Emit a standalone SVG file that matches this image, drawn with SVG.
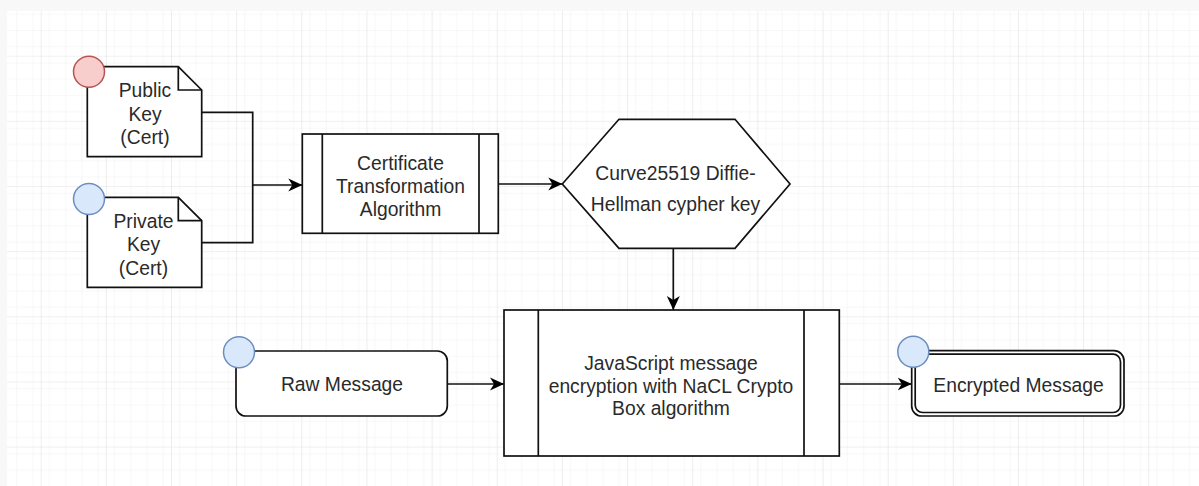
<svg xmlns="http://www.w3.org/2000/svg" width="1199" height="486" viewBox="0 0 1199 486">
  <defs>
    <pattern id="minor" patternUnits="userSpaceOnUse" x="40.7" y="55.7" width="16.29" height="16.29">
      <path d="M0,0 H16.29 M0,0 V16.29" fill="none" stroke="#efefef" stroke-width="1"/>
    </pattern>
    <pattern id="major" patternUnits="userSpaceOnUse" x="40.7" y="55.7" width="65.15" height="65.15">
      <rect width="65.15" height="65.15" fill="url(#minor)"/>
      <path d="M0,0 H65.15 M0,0 V65.15" fill="none" stroke="#e2e2e2" stroke-width="1.2"/>
    </pattern>
    <marker id="arrow" markerUnits="userSpaceOnUse" markerWidth="16" markerHeight="14" refX="14" refY="7" orient="auto">
      <path d="M0,0.5 L14,7 L0,13.5 L4,7 z" fill="#000"/>
    </marker>
    <style>
      .shape { fill: #fff; stroke: #111; stroke-width: 1.7; }
      .edge { fill: none; stroke: #111; stroke-width: 1.7; marker-end: url(#arrow); }
      .line { fill: none; stroke: #111; stroke-width: 1.7; }
      .label { font-family: "Liberation Sans", Arial, sans-serif; font-size: 19.3px; fill: #2a2a2a; text-anchor: middle; }
      .start-red { fill: #f8cecc; stroke: #b85450; stroke-width: 1.5; }
      .start-blue { fill: #dae8fc; stroke: #6c8ebf; stroke-width: 1.5; }
    </style>
  </defs>

  <!-- canvas and grid -->
  <rect width="1199" height="486" fill="#f8f8f8"/>
  <rect x="7" y="11" width="1192" height="475" fill="#fff"/>
  <rect x="7" y="11" width="1192" height="475" fill="url(#major)"/>

  <!-- connectors -->
  <g id="connectors">
    <path class="line" d="M201.7,112.3 H252.7 V242.7 H201.7"/>
    <path class="edge" d="M252.7,185 H302.3"/>
    <path class="edge" d="M498.3,184 H562.3"/>
    <path class="edge" d="M673.3,248.3 V310"/>
    <path class="edge" d="M447.3,384 H504"/>
    <path class="edge" d="M839.3,384 H911.7"/>
  </g>

  <!-- public key document -->
  <g id="public-key">
    <path class="shape" d="M87.3,66.7 H178.3 L201.7,90 V156.7 H87.3 Z"/>
    <path class="line" d="M178.3,66.7 V90 H201.7"/>
    <circle class="start-red" cx="89" cy="71.7" r="15.5"/>
    <text class="label" x="145" y="97">Public</text>
    <text class="label" x="145" y="120.5">Key</text>
    <text class="label" x="145" y="144">(Cert)</text>
  </g>

  <!-- private key document -->
  <g id="private-key">
    <path class="shape" d="M87.3,197.3 H178.3 L201.7,220.6 V287.3 H87.3 Z"/>
    <path class="line" d="M178.3,197.3 V220.6 H201.7"/>
    <circle class="start-blue" cx="89" cy="199" r="15.5"/>
    <text class="label" x="143.5" y="227.5">Private</text>
    <text class="label" x="143.5" y="251">Key</text>
    <text class="label" x="143.5" y="274.5">(Cert)</text>
  </g>

  <!-- certificate transformation process -->
  <g id="cert-transform">
    <rect class="shape" x="302.3" y="134" width="196" height="99.3"/>
    <path class="line" d="M322.3,134 V233.3 M479,134 V233.3"/>
    <text class="label" x="400.5" y="170">Certificate</text>
    <text class="label" x="400.5" y="193">Transformation</text>
    <text class="label" x="400.5" y="215.5">Algorithm</text>
  </g>

  <!-- cipher key hexagon -->
  <g id="cipher-key">
    <path class="shape" d="M562.3,184 L619,119.3 H735 L790,184 L735,248.3 H619 Z"/>
    <text class="label" x="675.5" y="180">Curve25519 Diffie-</text>
    <text class="label" x="675.5" y="210.5">Hellman cypher key</text>
  </g>

  <!-- raw message -->
  <g id="raw-message">
    <rect class="shape" x="236" y="351" width="211.3" height="65" rx="10" ry="10"/>
    <circle class="start-blue" cx="239" cy="352.3" r="15.5"/>
    <text class="label" x="342" y="391">Raw Message</text>
  </g>

  <!-- encryption process -->
  <g id="nacl-encrypt">
    <rect class="shape" x="504" y="310" width="335.3" height="146"/>
    <path class="line" d="M538.3,310 V456 M804,310 V456"/>
    <text class="label" x="671" y="370">JavaScript message</text>
    <text class="label" x="671" y="392.5">encryption with NaCL Crypto</text>
    <text class="label" x="671" y="415">Box algorithm</text>
  </g>

  <!-- encrypted message end state -->
  <g id="encrypted-message">
    <rect class="shape" x="911.7" y="350.7" width="212.3" height="65.3" rx="10" ry="10"/>
    <rect x="915.2" y="354.2" width="205.3" height="58.3" rx="7.5" ry="7.5" fill="none" stroke="#111" stroke-width="1.7"/>
    <circle class="start-blue" cx="913.3" cy="351.7" r="15.5"/>
    <text class="label" x="1018.5" y="392">Encrypted Message</text>
  </g>
</svg>
